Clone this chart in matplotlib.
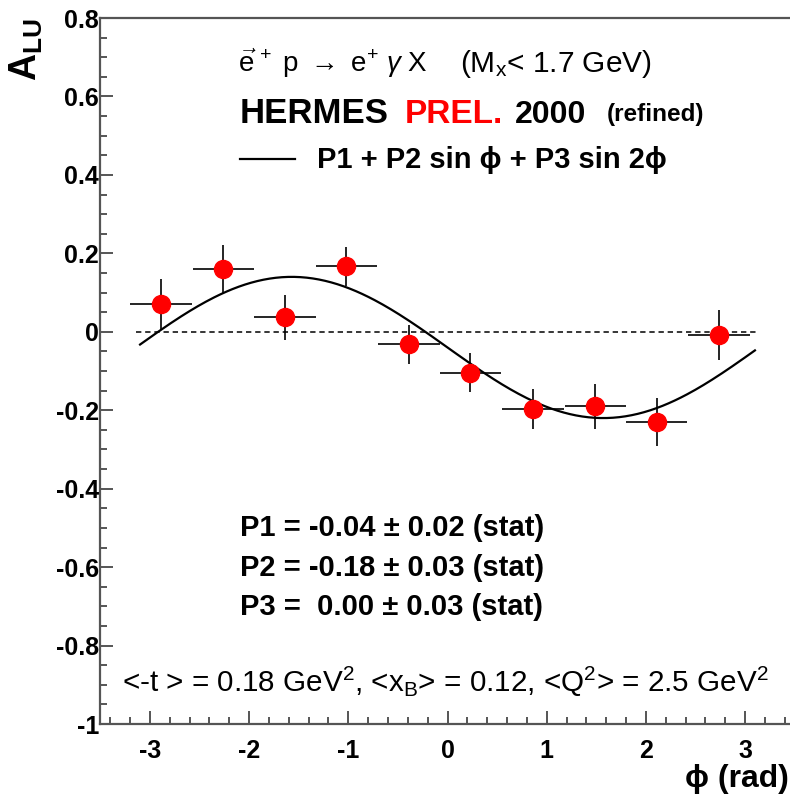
import numpy as np
import matplotlib
matplotlib.use("Agg")
import matplotlib.pyplot as plt

plt.rcParams['font.family'] = ['Liberation Sans', 'DejaVu Sans']
plt.rcParams['mathtext.fontset'] = 'custom'
plt.rcParams['mathtext.rm'] = 'Liberation Sans'
plt.rcParams['mathtext.it'] = 'Liberation Sans:italic'
plt.rcParams['mathtext.bf'] = 'Liberation Sans:bold'

# ---- data ----
phi = [-2.89, -2.26, -1.64, -1.02, -0.39, 0.23, 0.86, 1.49, 2.11, 2.74]
alu = [0.071, 0.160, 0.037, 0.167, -0.032, -0.104, -0.197, -0.190, -0.229, -0.008]
alu_err = [0.064, 0.062, 0.058, 0.050, 0.049, 0.050, 0.052, 0.058, 0.061, 0.063]
phi_err = [0.31] * 10
P1, P2, P3 = -0.04, -0.18, 0.00
xticks = [-3, -2, -1, 0, 1, 2, 3]
yticks = [-1, -0.8, -0.6, -0.4, -0.2, 0, 0.2, 0.4, 0.6, 0.8]
ytick_labels = ['-1', '-0.8', '-0.6', '-0.4', '-0.2', '0', '0.2', '0.4', '0.6', '0.8']

W, H = 790, 794
fig = plt.figure(figsize=(W / 100, H / 100), dpi=100)
# axes in pixels: left 100.4, right 794.6 (off canvas), top 18, bottom 724
ax = fig.add_axes([100.4 / W, (H - 724) / H, 694.2 / W, 706 / H])
ax.set_xlim(-3.5, 3.5)
ax.set_ylim(-1, 0.8)

spine_col = '#555555'
for s in ['left', 'bottom', 'top', 'right']:
    ax.spines[s].set_color(spine_col)
    ax.spines[s].set_linewidth(1.6)

ax.set_xticks(xticks)
ax.set_xticklabels([str(t) for t in xticks])
ax.set_yticks(yticks)
ax.set_yticklabels(ytick_labels)
ax.set_xticks(np.arange(-3.4, 3.5, 0.2), minor=True)
ax.set_yticks(np.arange(-1, 0.81, 0.05), minor=True)
ax.tick_params(axis='both', which='both', direction='in', color=spine_col, width=1.4,
               top=False, right=False)
ax.tick_params(axis='both', which='major', length=9.5, labelsize=18)
ax.tick_params(axis='both', which='minor', length=5)
ax.tick_params(axis='y', which='major', pad=1)
ax.tick_params(axis='x', which='major', pad=11)
for lab in ax.get_xticklabels() + ax.get_yticklabels():
    lab.set_fontweight('bold')

# zero line
ax.plot([-np.pi, np.pi], [0, 0], color='black', lw=1.1, ls=(0, (3.5, 2.5)))

# fit curve
xc = np.linspace(-3.1, 3.1, 300)
ax.plot(xc, P1 + P2 * np.sin(xc) + P3 * np.sin(2 * xc), color='black', lw=1.6)

# data points
ax.errorbar(phi, alu, yerr=alu_err, xerr=phi_err, fmt='none', ecolor='black',
            elinewidth=1.2, capsize=0, zorder=3)
ax.plot(phi, alu, 'o', color='#ff0000', ms=13, mec='#ff0000', zorder=4)


def ftext(x, y, s, **kw):
    kw.setdefault('va', 'baseline')
    kw.setdefault('ha', 'left')
    fig.text(x / W, 1 - y / H, s, **kw)


# header lines
ftext(238, 72, r'$\vec{\mathrm{e}}^{\,+}$ p $\rightarrow$ e$^{+}$ $\gamma$ X', fontsize=20)
ftext(460, 72, r'(M$_{\mathrm{x}}$< 1.7 GeV)', fontsize=21.5)
ftext(240, 123, 'HERMES', fontsize=25, fontweight='bold')
ftext(405, 123, 'PREL.', fontsize=24, fontweight='bold', color='#ff0000')
ftext(515, 123, '2000', fontsize=23, fontweight='bold')
ftext(607, 121, '(refined)', fontsize=17.5, fontweight='bold')
fig.add_artist(plt.Line2D([240 / W, 295 / W], [1 - 159 / H, 1 - 159 / H], color='black', lw=1.6))
ftext(317, 168, 'P1 + P2 sin ϕ + P3 sin 2ϕ', fontsize=21, fontweight='bold')

# stat lines
ftext(240, 536, 'P1 = -0.04 ± 0.02 (stat)', fontsize=21, fontweight='bold')
ftext(240, 576, 'P2 = -0.18 ± 0.03 (stat)', fontsize=21, fontweight='bold')
ftext(240, 615, 'P3 =  0.00 ± 0.03 (stat)', fontsize=21, fontweight='bold')

ftext(122, 692, r'<-t > = 0.18 GeV$^{2}$, <x$_{\mathrm{B}}$> = 0.12, <Q$^{2}$> = 2.5 GeV$^{2}$',
      fontsize=21.3)

# axis titles
fig.text(26 / W, 1 - 18 / H, r'$\mathbf{A}_{\mathbf{LU}}$', rotation=90, ha='center', va='top',
         fontsize=27)
ftext(789, 787, 'ϕ (rad)', ha='right', fontsize=23, fontweight='bold')

fig.savefig('out.png', dpi=100)
